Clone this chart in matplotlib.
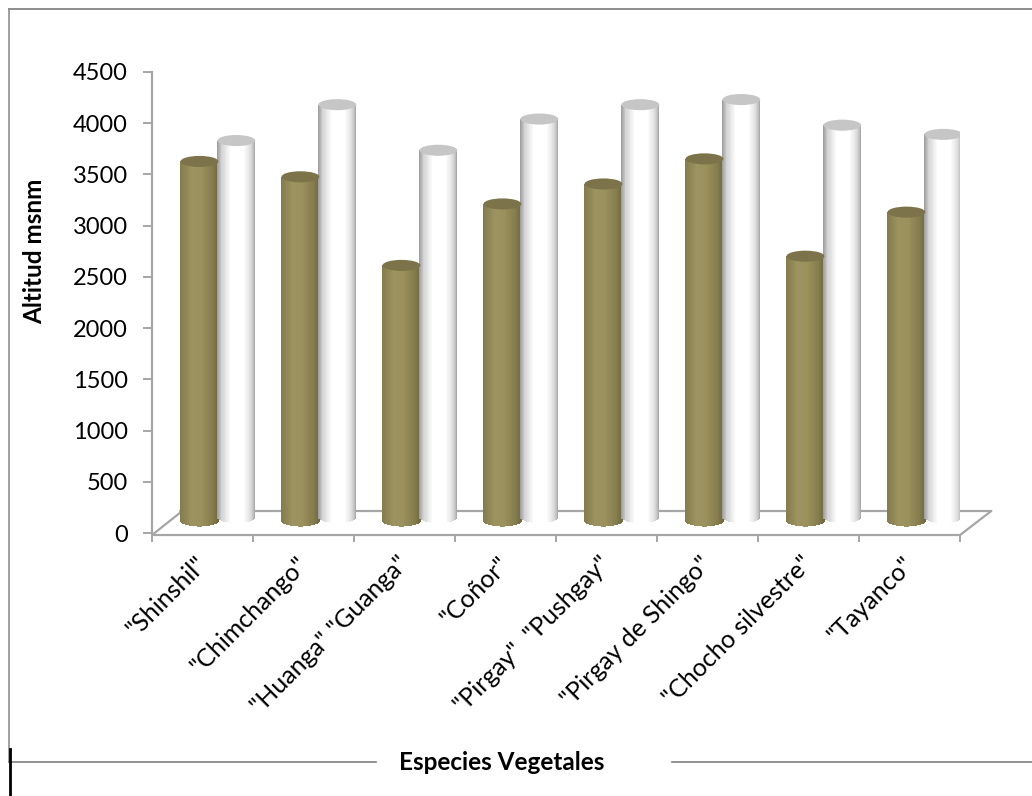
#!/usr/bin/env python3

import numpy as np
import matplotlib
matplotlib.use("Agg")
import matplotlib.pyplot as plt
from matplotlib.colors import LinearSegmentedColormap
from matplotlib.lines import Line2D
from matplotlib.patches import Ellipse

W, H = 1032, 796

especies = ['"Shinshil"', '"Chimchango"', '"Huanga" "Guanga"', '"Coñor"',
            '"Pirgay"  "Pushgay"', '"Pirgay de Shingo"', '"Chocho silvestre"', '"Tayanco"']
altitud_min = [3510, 3360, 2495, 3095, 3290, 3535, 2585, 3015]
altitud_max = [3680, 4030, 3585, 3890, 4030, 4080, 3830, 3740]
y_ticks = [0, 500, 1000, 1500, 2000, 2500, 3000, 3500, 4000, 4500]

GRIS = "#a6a6a6"


def fx(px):
    return px / W


def fy(py):
    return 1 - py / H


def cylinders(ax, pos, values, width, lift, cmap, top_color):
    # each cylinder is a stack of thin bars, shaded across its width
    n = 46
    ry = 54
    for x0, v in zip(pos, values):
        t = (np.arange(n) + 0.5) / n
        xs = x0 + (t - 0.5) * width
        sag = ry * np.sqrt(np.clip(1 - (2 * t - 1) ** 2, 0, 1))
        ax.bar(xs, v + sag, bottom=lift - sag, width=width / n * 1.25,
               color=cmap(t), linewidth=0, zorder=3)
        ax.add_patch(Ellipse((x0, lift + v), width, 2 * ry, facecolor=top_color,
                             edgecolor="none", zorder=3.1))


plt.rcParams['font.family'] = ['Lato', 'DejaVu Sans']

fig = plt.figure(figsize=(W / 100, H / 100), dpi=100)
ax = fig.add_axes([fx(152), fy(533), fx(960 - 152), (533 - 72) / H])
ax.set_xlim(0, len(especies))
ax.set_ylim(0, 4500)
ax.patch.set_alpha(0)

# floor of the chart box
ax_floor = dict(color=GRIS, lw=1.6, clip_on=False, solid_capstyle="round")
ax.plot([0, 0.30], [-20, 215], zorder=1, **ax_floor)
ax.plot([0.28, 8.31], [215, 215], zorder=1, **ax_floor)
ax.plot([8.31, 8.0], [215, -20], zorder=1, **ax_floor)
ax.plot([0, 8.0], [-20, -20], zorder=1, **ax_floor)

gold = LinearSegmentedColormap.from_list("gold", [
    (0, "#857c4e"), (0.3, "#9c9360"), (0.55, "#9a915d"), (0.85, "#857c4d"), (1, "#6f673f")])
silver = LinearSegmentedColormap.from_list("silver", [
    (0, "#9c9c9c"), (0.1, "#d0d0d0"), (0.35, "#ffffff"), (0.7, "#ffffff"),
    (0.88, "#dedede"), (1, "#a6a6a6")])

pos = np.arange(len(especies))
cylinders(ax, pos + 0.47, altitud_min, 0.375, 117, gold, "#7c734a")
cylinders(ax, pos + 0.835, altitud_max, 0.375, 151, silver, "#c6c6c6")

for s in ["top", "right", "bottom"]:
    ax.spines[s].set_visible(False)
ax.spines["left"].set_color(GRIS)
ax.spines["left"].set_linewidth(1.6)

ax.set_yticks(y_ticks)
ax.set_xticks(np.arange(len(especies) + 1))
ax.set_xticklabels([])
ax.tick_params(axis="y", length=6.5, width=1.4, color=GRIS, labelsize=17, pad=11)
ax.tick_params(axis="x", length=5, width=1.4, color=GRIS, pad=0, direction="out")
for tick in ax.xaxis.get_major_ticks():
    tick.tick1line.set_transform(ax.get_xaxis_transform())
    tick.tick1line.set_ydata([-20 / 4500])

for i, name in enumerate(especies):
    ax.annotate(name, (i + 0.5, 0), xytext=(0, -27), textcoords="offset pixels",
                rotation=45, rotation_mode="anchor", ha="right", va="center",
                fontsize=18, color="black", annotation_clip=False)

fig.text(fx(35), fy(251), "Altitud msnm", rotation=90, ha="center", va="center",
         fontsize=17.5, fontweight="bold")
fig.text(fx(502), fy(763), "Especies Vegetales", ha="center", va="center",
         fontsize=17.5, fontweight="bold")

# outer chart border, broken around the axis title
border = [
    ([9, 9], [9, 762], "#a0a0a0", 1.4),
    ([9, 1032], [9, 9], "#8c8c8c", 1.4),
    ([9, 376], [762, 762], "#808080", 1.2),
    ([672, 1032], [762, 762], "#808080", 1.2),
    ([10, 10], [749, 796], "black", 2.0),
]
for xs, ys, c, lw in border:
    fig.add_artist(Line2D([fx(v) for v in xs], [fy(v) for v in ys], color=c, lw=lw))

fig.savefig("out.png", dpi=100)
